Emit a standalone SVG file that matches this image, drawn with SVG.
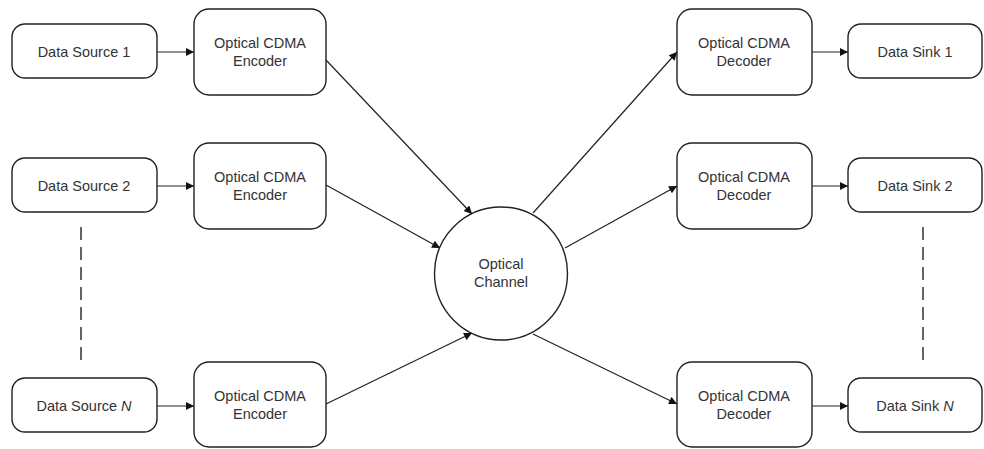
<svg xmlns="http://www.w3.org/2000/svg" width="984" height="449" viewBox="0 0 984 449">
<style>
.box{fill:#fff;stroke:#222;stroke-width:1.4}
.t{font-family:"Liberation Sans",Arial,sans-serif;font-size:14.5px;fill:#333;text-anchor:middle}
.c{stroke:#222;stroke-width:1.2;fill:none}
.d{stroke:#333;stroke-width:1.5;stroke-dasharray:13,7;fill:none}
</style>
<defs>
<marker id="ah" viewBox="0 0 10 10" refX="10" refY="5" markerWidth="10" markerHeight="8" markerUnits="userSpaceOnUse" orient="auto">
<path d="M0,0 L10,5 L0,10 z" fill="#111"/>
</marker>
</defs>
<rect width="984" height="449" fill="#fff"/>
<g id="src1"><rect class="box" x="12" y="24" width="145" height="54" rx="13"/><text class="t" x="84" y="57">Data Source 1</text></g>
<g id="src2"><rect class="box" x="12" y="158" width="145" height="54" rx="13"/><text class="t" x="84" y="191">Data Source 2</text></g>
<g id="srcN"><rect class="box" x="12" y="378" width="145" height="54" rx="13"/><text class="t" x="84" y="411">Data Source <tspan font-style="italic">N</tspan></text></g>
<g id="enc1"><rect class="box" x="194" y="9" width="132" height="86" rx="15"/><text class="t" x="260" y="48">Optical CDMA</text><text class="t" x="260" y="66">Encoder</text></g>
<g id="enc2"><rect class="box" x="194" y="143" width="132" height="86" rx="15"/><text class="t" x="260" y="182">Optical CDMA</text><text class="t" x="260" y="200">Encoder</text></g>
<g id="encN"><rect class="box" x="194" y="362" width="132" height="85" rx="15"/><text class="t" x="260" y="401">Optical CDMA</text><text class="t" x="260" y="419">Encoder</text></g>
<g id="channel"><circle class="box" cx="501" cy="273.5" r="66.5"/><text class="t" x="501" y="269">Optical</text><text class="t" x="501" y="287">Channel</text></g>
<g id="dec1"><rect class="box" x="677" y="9" width="135" height="86" rx="15"/><text class="t" x="744" y="48">Optical CDMA</text><text class="t" x="744" y="66">Decoder</text></g>
<g id="dec2"><rect class="box" x="677" y="143" width="135" height="86" rx="15"/><text class="t" x="744" y="182">Optical CDMA</text><text class="t" x="744" y="200">Decoder</text></g>
<g id="decN"><rect class="box" x="677" y="362" width="135" height="85" rx="15"/><text class="t" x="744" y="401">Optical CDMA</text><text class="t" x="744" y="419">Decoder</text></g>
<g id="sink1"><rect class="box" x="848" y="24" width="134" height="54" rx="13"/><text class="t" x="915" y="57">Data Sink 1</text></g>
<g id="sink2"><rect class="box" x="848" y="158" width="134" height="54" rx="13"/><text class="t" x="915" y="191">Data Sink 2</text></g>
<g id="sinkN"><rect class="box" x="848" y="378" width="134" height="54" rx="13"/><text class="t" x="915" y="411">Data Sink <tspan font-style="italic">N</tspan></text></g>
<g id="connectors">
<line class="c" x1="157" y1="52" x2="194" y2="52" marker-end="url(#ah)"/>
<line class="c" x1="157" y1="186" x2="194" y2="186" marker-end="url(#ah)"/>
<line class="c" x1="157" y1="406" x2="194" y2="406" marker-end="url(#ah)"/>
<line class="c" x1="326" y1="60" x2="472" y2="214" marker-end="url(#ah)"/>
<line class="c" x1="326" y1="185" x2="440" y2="248" marker-end="url(#ah)"/>
<line class="c" x1="326" y1="404" x2="472" y2="333" marker-end="url(#ah)"/>
<line class="c" x1="533" y1="213" x2="677" y2="52" marker-end="url(#ah)"/>
<line class="c" x1="565" y1="248" x2="677" y2="186" marker-end="url(#ah)"/>
<line class="c" x1="533" y1="334" x2="677" y2="404" marker-end="url(#ah)"/>
<line class="c" x1="812" y1="52" x2="848" y2="52" marker-end="url(#ah)"/>
<line class="c" x1="812" y1="186" x2="848" y2="186" marker-end="url(#ah)"/>
<line class="c" x1="812" y1="406" x2="848" y2="406" marker-end="url(#ah)"/>
<line class="d" x1="81" y1="227" x2="81" y2="360"/>
<line class="d" x1="923" y1="227" x2="923" y2="360"/>
</g>
</svg>
